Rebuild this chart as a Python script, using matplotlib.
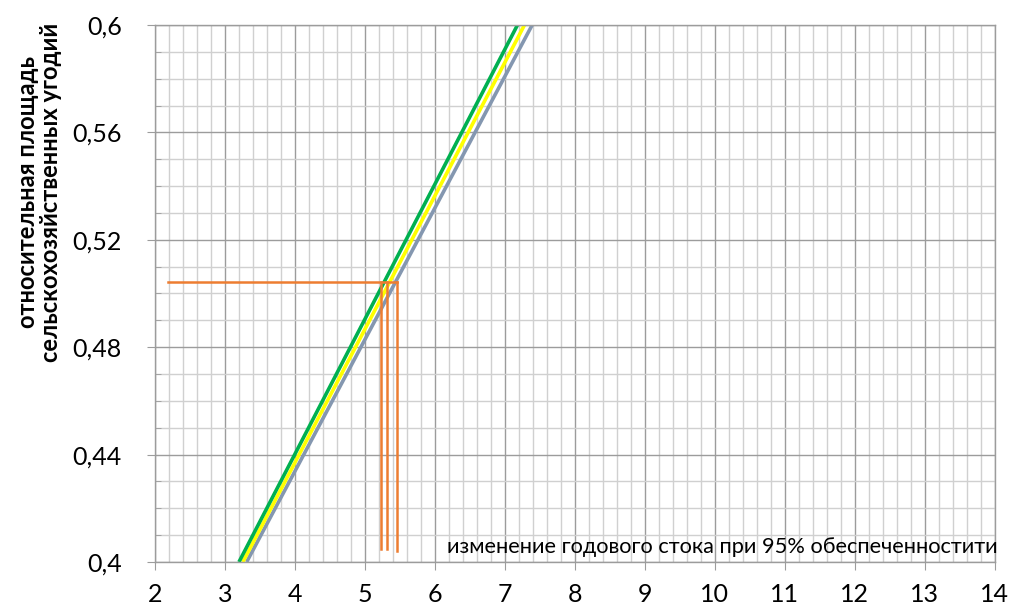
import numpy as np
import matplotlib
matplotlib.use("Agg")
import matplotlib.pyplot as plt
from matplotlib.ticker import MultipleLocator, FuncFormatter

# кривые (точки пересечения с границами графика)
y_line = [0.4, 0.6]
x_green = [3.20, 7.18]
x_yellow = [3.255, 7.28]
x_gray = [3.31, 7.39]

# оранжевые построения
y_level = 0.5043
x_h = [2.185, 5.46]
x_vert = [5.234, 5.31, 5.46]
y_vert_bottom = [0.4048, 0.4048, 0.4042]

plt.rcParams['font.family'] = ['Lato', 'DejaVu Sans']

fig = plt.figure(figsize=(10.13, 6.05), dpi=100)
ax = fig.add_axes([0.153, 0.0711, 0.829, 0.8876])

ax.set_xlim(2, 14)
ax.set_ylim(0.4, 0.6)
ax.xaxis.set_major_locator(MultipleLocator(1))
ax.xaxis.set_minor_locator(MultipleLocator(0.2))
ax.yaxis.set_major_locator(MultipleLocator(0.04))
ax.yaxis.set_minor_locator(MultipleLocator(0.01))
ax.yaxis.set_major_formatter(FuncFormatter(lambda v, p: ('%g' % round(v, 2)).replace('.', ',')))

ax.grid(which='minor', color='#d0d0d0', lw=1.0, zorder=0)
ax.grid(which='major', color='#9c9c9c', lw=1.0, zorder=0)
ax.set_axisbelow(True)
for s in ax.spines.values():
    s.set_color('#9c9c9c')
    s.set_linewidth(1.0)

ax.tick_params(which='major', direction='out', length=6, color='#9c9c9c', labelsize=18)
ax.tick_params(axis='y', which='major', pad=18)
ax.tick_params(axis='x', which='major', pad=9)
ax.tick_params(axis='x', which='minor', length=0)
ax.tick_params(axis='y', which='minor', direction='in', length=4, color='#9c9c9c')

ax.plot(x_gray, y_line, color='#8497b0', lw=2.6, solid_capstyle='butt')
ax.plot(x_yellow, y_line, color='#ffff00', lw=2.6, solid_capstyle='butt')
ax.plot(x_green, y_line, color='#00b050', lw=2.6, solid_capstyle='butt')

ax.plot(x_h, [y_level, y_level], color='#ed7d31', lw=1.8)
for xv, yb in zip(x_vert, y_vert_bottom):
    ax.plot([xv, xv], [yb, y_level], color='#ed7d31', lw=1.8)

fig.text(39 / 1013, 1 - 192 / 605, 'относительная площадь\nсельскохозяйственных угодий',
         rotation=90, ha='center', va='center', multialignment='center',
         fontsize=17, fontweight='bold', linespacing=1.05)
ax.text(1.0036, 0.0168, 'изменение годового стока при 95% обеспеченностити',
        transform=ax.transAxes, ha='right', va='baseline', fontsize=15.7)

fig.savefig('out.png', dpi=100)
